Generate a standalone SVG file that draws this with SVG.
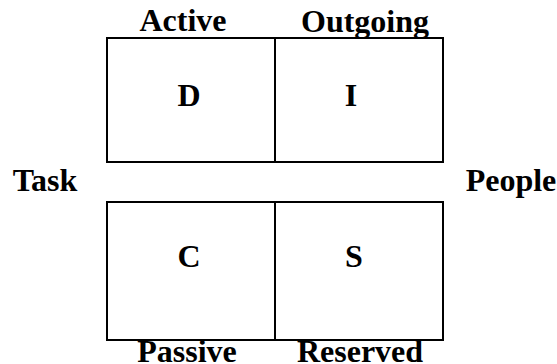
<svg xmlns="http://www.w3.org/2000/svg" width="557" height="364" viewBox="0 0 557 364">
  <style>
    .box { fill: #fff; stroke: #000; stroke-width: 2; }
    .lbl { font-family: "Liberation Serif", "Times New Roman", serif; font-weight: bold; font-size: 32px; fill: #000; text-anchor: middle; }
  </style>
  <rect width="557" height="364" fill="#fff"/>

  <!-- quadrant cells -->
  <g id="node-D"><rect class="box" x="107" y="38" width="168" height="124"/><text class="lbl" x="189" y="106">D</text></g>
  <g id="node-I"><rect class="box" x="275" y="38" width="168" height="124"/><text class="lbl" x="351" y="106">I</text></g>
  <g id="node-C"><rect class="box" x="107" y="202" width="168" height="138"/><text class="lbl" x="189" y="267">C</text></g>
  <g id="node-S"><rect class="box" x="275" y="202" width="168" height="138"/><text class="lbl" x="354" y="267">S</text></g>

  <!-- axis labels -->
  <g id="label-active"><text class="lbl" x="183" y="31">Active</text></g>
  <g id="label-outgoing"><text class="lbl" x="365" y="32">Outgoing</text></g>
  <g id="label-task"><text class="lbl" x="45" y="191">Task</text></g>
  <g id="label-people"><text class="lbl" x="511" y="191">People</text></g>
  <g id="label-passive"><text class="lbl" x="187" y="362">Passive</text></g>
  <g id="label-reserved"><text class="lbl" x="360" y="362">Reserved</text></g>

  <g id="connectors"></g>
</svg>
